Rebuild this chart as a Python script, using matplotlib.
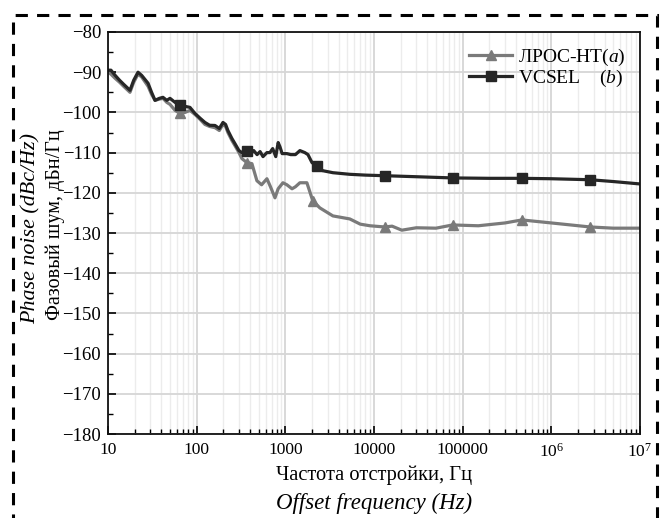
import matplotlib
matplotlib.use("Agg")
import matplotlib.pyplot as plt
import numpy as np
from matplotlib.patches import Rectangle
from matplotlib.ticker import FixedLocator, FixedFormatter, MultipleLocator, LogLocator

plt.rcParams['font.family'] = ['Liberation Serif', 'DejaVu Serif']
plt.rcParams['mathtext.fontset'] = 'custom'
plt.rcParams['mathtext.rm'] = 'Liberation Serif'
plt.rcParams['mathtext.it'] = 'Liberation Serif:italic'

# VCSEL (b)
f_vcsel = [10, 10.8, 12, 13.5, 15, 17.7, 19.5, 21.8, 24, 28.3, 31, 33.9, 38, 41.7, 46, 50,
           57, 65, 74, 84, 95.6, 110, 124, 140, 161, 180, 198, 212, 225, 250, 270, 300,
           324, 369, 400, 440, 480, 519, 560, 620, 670, 720, 780, 830, 868, 920, 1040,
           1150, 1300, 1460, 1660, 1800, 2000, 2260, 2640, 3440, 5330, 8000, 13200,
           30000, 77000, 200000, 466000, 1e6, 2.74e6, 5e6, 1e7]
pn_vcsel = [-89.5, -89.5, -90.75, -92, -93, -94.5, -92, -90, -90.8, -92.75, -95, -97,
            -96.5, -96.25, -97, -96.5, -97.5, -98.25, -98.5, -98.75, -100.25, -101.5,
            -102.5, -103.2, -103.25, -104, -102.5, -103, -104.5, -106.5, -107.75, -109.5,
            -110, -109.5, -110.5, -109.5, -110.5, -109.75, -111, -110, -110, -109, -111,
            -107.5, -108.5, -110.25, -110.25, -110.5, -110.5, -109.5, -110, -110.5,
            -112.5, -113.25, -114.5, -115, -115.4, -115.6, -115.75, -116, -116.3, -116.4,
            -116.4, -116.5, -116.75, -117.2, -117.8]
mk_vcsel = [65, 369, 2260, 13200, 77000, 466000, 2.74e6]

# ЛРОС-НТ (a)
f_lros = [10, 10.8, 12, 13.5, 15, 17.7, 19.5, 21.8, 24, 28.3, 31, 33.9, 38, 41.7, 46, 50,
          57, 65, 74, 84, 95.6, 110, 124, 140, 161, 180, 198, 212, 225, 250, 270, 300,
          324, 369, 420, 478, 540, 620, 680, 764, 830, 940, 1040, 1190, 1300, 1460, 1750,
          2040, 2450, 3440, 5330, 7000, 9000, 13200, 16000, 20600, 30000, 50000, 77000,
          150000, 300000, 466000, 1e6, 2.74e6, 5e6, 1e7]
pn_lros = [-90, -90.5, -91.5, -92.5, -93.5, -95, -92.5, -90.5, -91.2, -93.5, -95.5, -97,
           -96.7, -96.5, -97.5, -98, -99.5, -100.25, -100, -99.5, -100.5, -101.8, -103,
           -103.5, -103.8, -104.5, -103, -103.5, -105, -107, -108.25, -110, -111.5,
           -112.5, -112.75, -117, -118, -116.5, -118.5, -121.25, -119, -117.5, -118, -119,
           -118.5, -117.5, -117.5, -122, -123.75, -125.75, -126.5, -127.8, -128.2, -128.5,
           -128.3, -129.3, -128.7, -128.8, -128, -128.2, -127.5, -126.75, -127.5, -128.5,
           -128.8, -128.8]
mk_lros = [65, 369, 2040, 13200, 77000, 466000, 2.74e6]

xticks = [10, 100, 1000, 10000, 100000, 1e6, 1e7]
xlabels = ['10', '100', '1000', '10000', '100000', '$10^6$', '$10^7$']


def idx(f, marks):
    f = np.array(f)
    return [int(np.argmin(np.abs(np.log10(f) - np.log10(m)))) for m in marks]


fig = plt.figure(figsize=(6.62, 5.18), dpi=100)
ax = fig.add_axes([108 / 662, 1 - 434 / 518, 532 / 662, 402 / 518])

ax.plot(f_lros, pn_lros, color='#7a7a7a', lw=2.3, marker='^', ms=7,
        markevery=idx(f_lros, mk_lros), label=r'ЛРОС-НТ$\mathit{(a)}$')
ax.plot(f_vcsel, pn_vcsel, color='#262626', lw=2.3, marker='s', ms=6.5,
        markevery=idx(f_vcsel, mk_vcsel), label=r'VCSEL    $\mathit{(b)}$')

ax.set_xscale('log')
ax.set_xlim(10, 1e7)
ax.set_ylim(-180, -80)
ax.xaxis.set_major_locator(FixedLocator(xticks))
ax.xaxis.set_major_formatter(FixedFormatter(xlabels))
ax.xaxis.set_minor_locator(LogLocator(base=10, subs=np.arange(2, 10), numticks=20))
ax.xaxis.set_minor_formatter(plt.NullFormatter())
ax.yaxis.set_major_locator(MultipleLocator(10))
ax.yaxis.set_minor_locator(MultipleLocator(5))
ax.grid(True, which='major', color='#d6d6d6', lw=1.3)
ax.grid(True, which='minor', axis='x', color='#ececec', lw=1.0)
ax.set_axisbelow(True)
ax.tick_params(which='both', direction='in', top=False, right=False)
ax.tick_params(axis='x', labelsize=12.5, pad=6)
ax.tick_params(axis='y', labelsize=13.5, pad=5)
ax.tick_params(which='major', length=6, width=1.2)
ax.tick_params(which='minor', length=3.5, width=1.0)
for s in ax.spines.values():
    s.set_linewidth(1.3)
    s.set_color('#111111')

leg = ax.legend(loc='upper right', frameon=False, fontsize=14, handlelength=2.2,
                borderaxespad=0.35, labelspacing=0.0, handletextpad=0.3)

ax.text(0.5, -0.102, 'Частота отстройки, Гц', transform=ax.transAxes, ha='center',
        va='center', fontsize=14.8)
ax.text(0.5, -0.172, 'Offset frequency (Hz)', transform=ax.transAxes, ha='center',
        va='center', fontsize=16.5, style='italic')
ax.text(-0.1, 0.52, 'Фазовый шум, дБн/Гц', transform=ax.transAxes, ha='center',
        va='center', fontsize=14.5, rotation=90)
ax.text(-0.145, 0.51, 'Phase noise (dBc/Hz)', transform=ax.transAxes, ha='center',
        va='center', fontsize=15.8, rotation=90, style='italic')

border = Rectangle((13 / 662, -0.1), (657 - 13) / 662, 1 - 15 / 518 + 0.1,
                   transform=fig.transFigure, fill=False, lw=2.2, ls=(0, (4, 3)),
                   edgecolor='black', clip_on=False)
fig.patches.append(border)

fig.savefig('out.png', dpi=100)
